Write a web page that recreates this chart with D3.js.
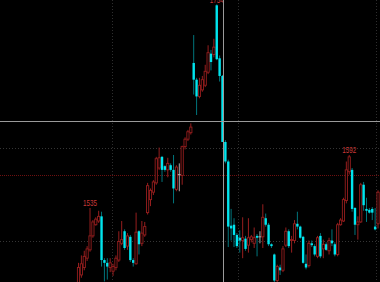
<!DOCTYPE html>
<html><head><meta charset="utf-8">
<script src="https://cdn.jsdelivr.net/npm/d3@7"></script>
<style>html,body{margin:0;padding:0;background:#000;overflow:hidden}</style>
</head><body>
<svg id="c" width="380" height="282"></svg>
<script>
const opens = [1453,1463,1471,1481,1490,1505,1517,1521,1526,1479,
1476,1471,1467,1471,1479,1497,1510,1494,1504,1479,
1475,1510,1497,1506,1530,1544,1552,1562,1578,1590,
1580,1576,1581,1576,1555,1571,1570,1601,1609,1616,
1691,1673,1655,1662,1667,1681,1701,1700,1753,1696,
1677,1606,1585,1516,1517,1506,1503,1500,1502,1495,
1501,1497,1505,1504,1504,1524,1517,1496,1485,1457,
1471,1468,1495,1510,1500,1500,1518,1515,1504,1475,
1473,1497,1494,1483,1505,1491,1496,1489,1500,1496,
1485,1517,1521,1543,1574,1576,1535,1517,1520,1560,
1534,1533,1534,1515,1518];
const highs = [1476,1484,1489,1494,1535,1522,1525,1532,1531,1481,
1481,1481,1475,1484,1510,1521,1512,1508,1506,1481,
1530,1511,1521,1520,1562,1556,1565,1590,1600,1591,
1581,1589,1583,1592,1581,1583,1602,1611,1619,1626,
1721,1675,1675,1677,1689,1710,1705,1717,1754,1699,
1678,1608,1587,1534,1524,1508,1511,1525,1505,1524,
1506,1514,1507,1510,1539,1529,1519,1497,1486,1474,
1474,1494,1514,1512,1505,1522,1531,1516,1505,1485,
1500,1500,1496,1505,1508,1501,1498,1503,1512,1498,
1519,1524,1546,1585,1592,1578,1536,1526,1562,1563,
1546,1535,1536,1535,1554];
const lows = [1447,1460,1468,1478,1488,1503,1516,1519,1472,1456,
1458,1466,1462,1468,1477,1495,1490,1490,1477,1472,
1474,1485,1494,1504,1528,1537,1549,1560,1576,1563,
1574,1568,1574,1540,1553,1553,1560,1598,1607,1614,
1657,1635,1653,1660,1665,1679,1683,1697,1694,1671,
1606,1583,1493,1500,1493,1492,1487,1481,1489,1487,
1498,1492,1483,1497,1492,1515,1494,1492,1447,1453,
1463,1466,1493,1492,1487,1497,1512,1502,1475,1469,
1471,1493,1483,1481,1481,1481,1489,1485,1494,1483,
1483,1516,1520,1540,1571,1531,1506,1501,1519,1532,
1520,1529,1522,1511,1513];
const closes = [1471,1475,1483,1491,1505,1520,1523,1526,1479,1476,
1472,1476,1472,1481,1499,1501,1492,1505,1479,1476,
1509,1496,1508,1515,1559,1554,1563,1588,1589,1576,
1576,1583,1576,1556,1579,1571,1601,1609,1617,1622,
1673,1655,1667,1673,1682,1702,1692,1708,1695,1677,
1606,1585,1515,1513,1506,1494,1500,1503,1491,1503,
1504,1503,1503,1504,1525,1517,1496,1494,1457,1472,
1468,1491,1510,1494,1501,1518,1515,1503,1476,1471,
1497,1495,1485,1503,1483,1496,1490,1500,1497,1485,
1517,1522,1544,1576,1590,1534,1517,1520,1560,1538,
1532,1530,1530,1512,1552];
const labelIndices = [4, 48, 94];
const gridPrices = [1500, 1600];
const levelPrice = 1570;
const gridIndices = [11.74, 55.5, 103.2];
const crossIndex = 50;
const crossPrice = 1628.6;

const W = 380, H = 282;
const x = d3.scaleLinear().domain([0, 104]).range([78.5, 78.5 + 2.88 * 104]);
const y = d3.scaleLinear().domain([1455.4, 1758.7]).range([282, 0]);
const svg = d3.select('#c');
svg.append('rect').attr('width', W).attr('height', H).attr('fill', '#000');

svg.selectAll('.gv').data(gridIndices).enter().append('line')
  .attr('x1', d => Math.round(x(d)) + 0.5).attr('x2', d => Math.round(x(d)) + 0.5)
  .attr('y1', 0).attr('y2', H)
  .attr('stroke', '#2e2e2e').attr('stroke-dasharray', '1,2');
svg.selectAll('.gh').data(gridPrices).enter().append('line')
  .attr('x1', 0).attr('x2', W)
  .attr('y1', d => Math.round(y(d)) + 0.5).attr('y2', d => Math.round(y(d)) + 0.5)
  .attr('stroke', '#353535').attr('stroke-dasharray', '1,2');
svg.append('line').attr('x1', 0).attr('x2', W)
  .attr('y1', Math.round(y(levelPrice)) + 0.5).attr('y2', Math.round(y(levelPrice)) + 0.5)
  .attr('stroke', '#6e1010').attr('stroke-dasharray', '1,1');

const data = opens.map((o, i) => ({i, o, h: highs[i], l: lows[i], c: closes[i]}));
const kind = d => d.c > d.o ? 'up' : (d.c < d.o ? 'down' : 'flat');
const RED = '#961e1e', CYAN = '#00e5ee', TEAL = '#00757c', GRAY = '#a8a8a8';

const g = svg.append('g');
const cand = g.selectAll('g.k').data(data).enter().append('g');
cand.append('line')
  .attr('x1', d => x(d.i)).attr('x2', d => x(d.i))
  .attr('y1', d => y(d.h)).attr('y2', d => y(d.l))
  .attr('stroke-width', 1)
  .attr('stroke', d => kind(d) === 'up' ? RED : kind(d) === 'down' ? TEAL : GRAY);
cand.filter(d => kind(d) === 'up').append('rect')
  .attr('x', d => x(d.i) - 1.1).attr('width', 2.2)
  .attr('y', d => y(d.c)).attr('height', d => Math.max(0.5, y(d.o) - y(d.c)))
  .attr('fill', '#000').attr('stroke', RED).attr('stroke-width', 0.9);
cand.filter(d => kind(d) === 'down').append('rect')
  .attr('x', d => x(d.i) - 1.2).attr('width', 2.4)
  .attr('y', d => y(d.o)).attr('height', d => Math.max(1, y(d.c) - y(d.o)))
  .attr('fill', CYAN);
cand.filter(d => kind(d) === 'flat').append('line')
  .attr('x1', d => x(d.i) - 1.5).attr('x2', d => x(d.i) + 1.5)
  .attr('y1', d => y(d.o)).attr('y2', d => y(d.o))
  .attr('stroke', GRAY);

svg.selectAll('.lbl').data(labelIndices).enter().append('text')
  .attr('x', i => x(i)).attr('y', i => y(highs[i]) - 1.5)
  .attr('text-anchor', 'middle')
  .attr('font-family', 'Liberation Sans, Arial, sans-serif')
  .attr('font-size', 9)
  .attr('textLength', 14).attr('lengthAdjust', 'spacingAndGlyphs')
  .attr('fill', '#c83838')
  .text(i => String(highs[i]));

svg.append('line').attr('x1', 0).attr('x2', W)
  .attr('y1', Math.round(y(crossPrice)) + 0.5).attr('y2', Math.round(y(crossPrice)) + 0.5)
  .attr('stroke', '#9a9a9a');
svg.append('line')
  .attr('x1', Math.round(x(crossIndex)) + 0.5).attr('x2', Math.round(x(crossIndex)) + 0.5)
  .attr('y1', 0).attr('y2', H)
  .attr('stroke', '#9a9a9a');
</script>
</body></html>
